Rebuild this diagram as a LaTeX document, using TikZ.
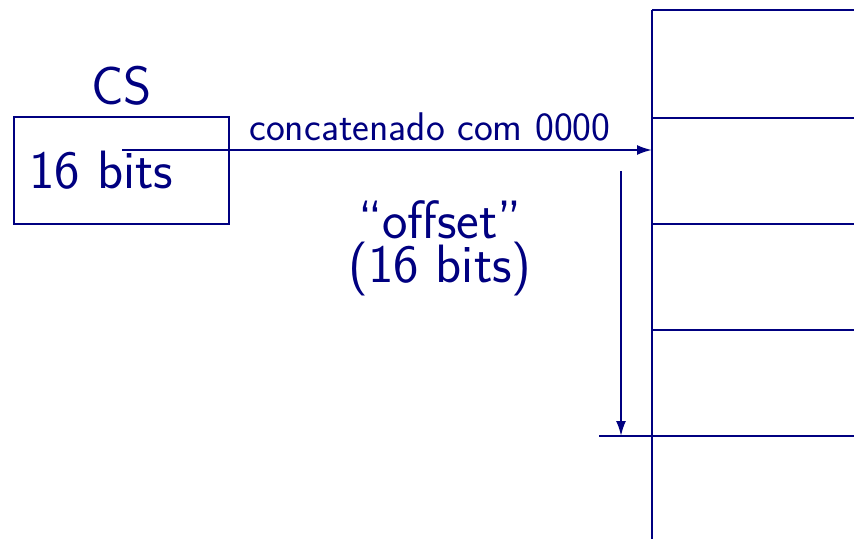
\documentclass[tikz,border=0pt]{standalone}
\usetikzlibrary{arrows.meta}
\definecolor{ink}{RGB}{0,0,128}
\begin{document}
\begin{tikzpicture}[x=0.5pt,y=-0.5pt,
  rule/.style={draw=ink,line width=1pt},
  lbl/.style={text=ink,inner sep=0pt,font=\sffamily\fontsize{27}{21.5}\selectfont},
  small/.style={text=ink,inner sep=0pt,font=\sffamily\fontsize{20}{24}\selectfont},
  tip/.style={rule,-{Latex[length=7.5pt,width=5pt]}}]
\useasboundingbox (0,0) rectangle (854,539);

% CS register
\node[rule,minimum width=107.5pt,minimum height=53.5pt,inner sep=0pt]
  (csbox) at (121.5,170.5) {};
\node[lbl,anchor=base] (cs) at (121.5,105) {CS};
\node[lbl,anchor=base west] (csbits) at (29,189) {16 bits};

% memory column
\coordinate (mtop) at (652,10);
\coordinate (mbot) at (652,539);
\draw[rule] (mtop) -- (mbot);
\coordinate (r0) at (854,10);
\coordinate (r1a) at (652,118);  \coordinate (r1b) at (854,118);
\coordinate (r2a) at (652,224);  \coordinate (r2b) at (854,224);
\coordinate (r3a) at (652,330);  \coordinate (r3b) at (854,330);
\coordinate (r4a) at (599,436);  \coordinate (r4b) at (854,436);
\draw[rule] (mtop) -- (r0);
\draw[rule] (r1a) -- (r1b);
\draw[rule] (r2a) -- (r2b);
\draw[rule] (r3a) -- (r3b);
\draw[rule] (r4a) -- (r4b);

% segment base
\coordinate (segsrc) at (122,150);
\coordinate (segdst) at (652,150);
\draw[tip] (segsrc) -- (segdst);
\node[small,anchor=base west] (concat) at (249,141) {concatenado com 0000};

% offset
\coordinate (offsrc) at (621,171);
\coordinate (offdst) at (621,436);
\draw[tip] (offsrc) -- (offdst);
\node[lbl,anchor=base,align=center] (offset) at (440,282) {“offset”\\(16 bits)};
\end{tikzpicture}
\end{document}
